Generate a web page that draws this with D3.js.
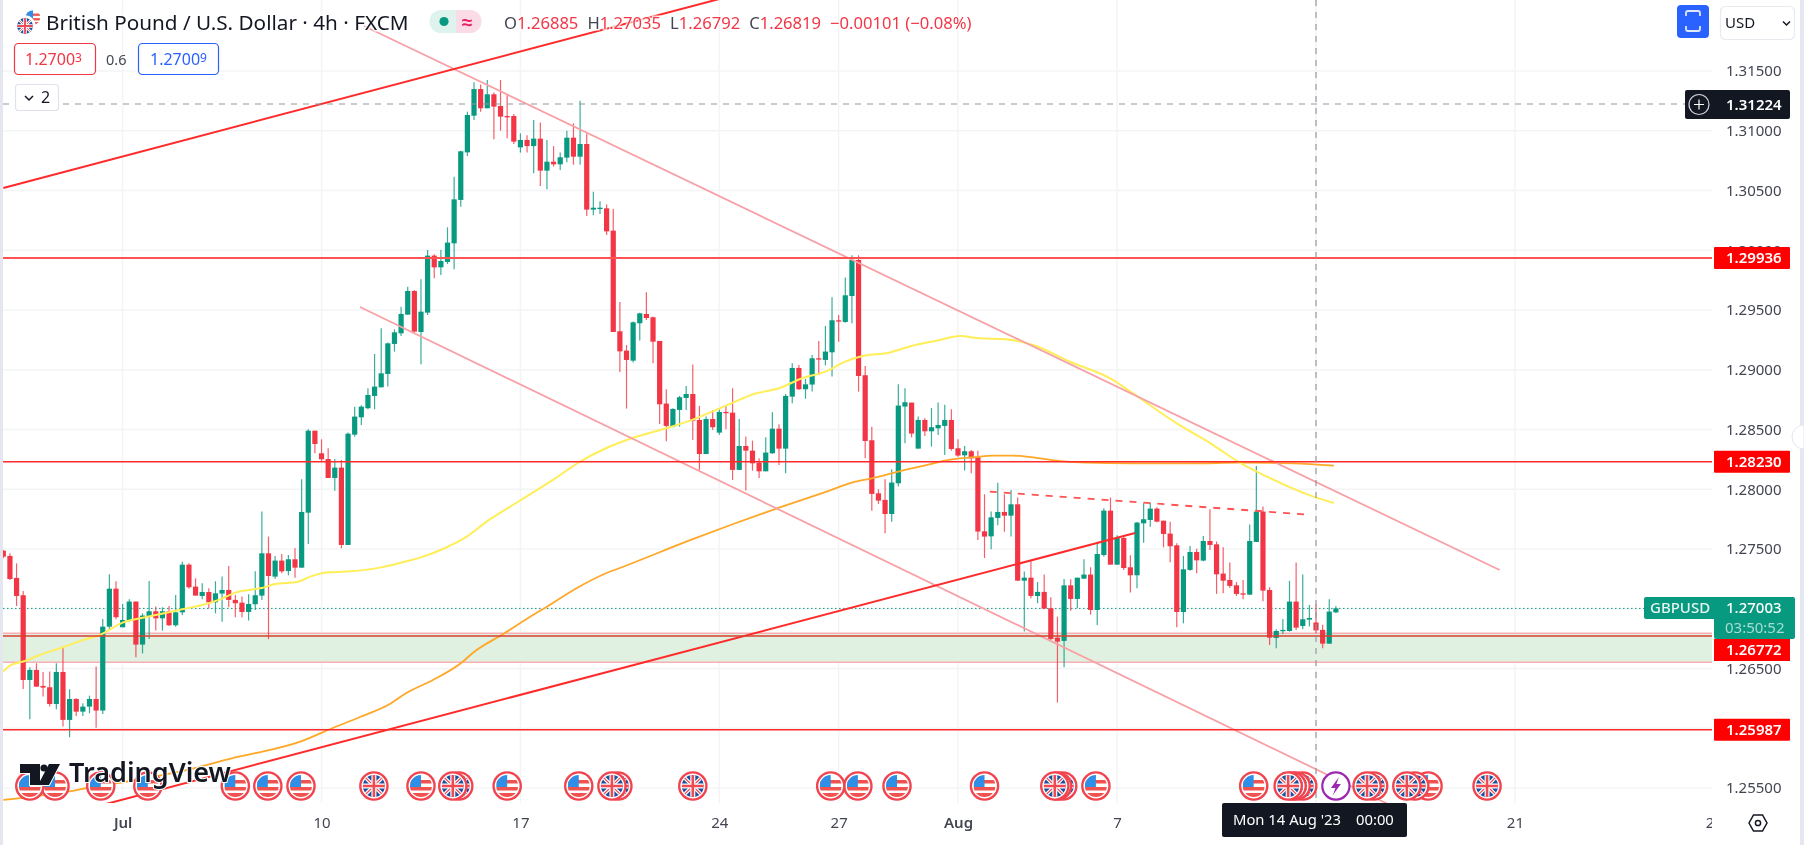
<!DOCTYPE html>
<html>
<head>
<meta charset="utf-8">
<title>GBPUSD 4h</title>
<script src="https://cdnjs.cloudflare.com/ajax/libs/d3/7.8.5/d3.min.js"></script>
<style>
  html, body { margin: 0; padding: 0; background: #fff; overflow: hidden; }
  text { font-family: "Noto Sans", sans-serif; }
  svg { filter: blur(0.35px); }
</style>
</head>
<body>
<div id="chart"></div>
<script>
// 4h candles
var opens = [
1.27486,1.27442,1.27258,1.27113,1.26404,1.26488,1.26354,1.26343,1.26203,1.26471,
1.26070,1.26245,1.26139,1.26181,1.26245,1.26148,1.26850,1.27168,1.26845,1.26901,
1.27060,1.26700,1.26934,1.26979,1.26920,1.26979,1.26862,1.26970,1.27369,1.27185,
1.27107,1.27140,1.27054,1.27127,1.27157,1.27074,1.27051,1.26973,1.27038,1.27110,
1.27464,1.27269,1.27403,1.27316,1.27414,1.27344,1.27804,1.28490,1.28301,1.28253,
1.28094,1.28181,1.27534,1.28457,1.28602,1.28678,1.28781,1.28853,1.28965,1.29216,
1.29305,1.29461,1.29659,1.29316,1.29478,1.29955,1.29857,1.29902,1.30058,1.30421,
1.30819,1.31126,1.31349,1.31188,1.31305,1.31207,1.31123,1.31123,1.30861,1.30923,
1.30872,1.30934,1.30666,1.30741,1.30719,1.30775,1.30942,1.30783,1.30889,1.30340,
1.30351,1.30351,1.30164,1.29322,1.29160,1.29076,1.29389,1.29467,1.29439,1.29241,
1.28717,1.28524,1.28664,1.28764,1.28797,1.28580,1.28295,1.28588,1.28474,1.28647,
1.28641,1.28162,1.28362,1.28323,1.28223,1.28150,1.28301,1.28507,1.28340,1.28775,
1.29015,1.28837,1.28876,1.29096,1.29082,1.29146,1.29414,1.29400,1.29617,1.29919,
1.28954,1.28410,1.27966,1.27911,1.27793,1.28050,1.28692,1.28725,1.28340,1.28580,
1.28485,1.28510,1.28530,1.28580,1.28343,1.28284,1.28318,1.28268,1.27648,1.27606,
1.27760,1.27810,1.27779,1.27874,1.27235,1.27260,1.27107,1.27141,1.27004,1.26758,
1.26731,1.27196,1.27082,1.27252,1.27286,1.26990,1.27450,1.27821,1.27369,1.27592,
1.27347,1.27280,1.27715,1.27743,1.27838,1.27737,1.27629,1.27531,1.26973,1.27325,
1.27475,1.27403,1.27567,1.27539,1.27294,1.27241,1.27196,1.27129,1.27118,1.27559,
1.27813,1.27157,1.26756,1.26812,1.26814,1.27060,1.26856,1.26909,1.26885,1.26823,
1.26708,1.26970];
var closes = [
1.27436,1.27249,1.27107,1.26404,1.26488,1.26348,1.26340,1.26203,1.26471,1.26070,
1.26245,1.26139,1.26181,1.26245,1.26148,1.26850,1.27168,1.26929,1.26906,1.27060,
1.26700,1.26943,1.26979,1.26920,1.26979,1.26862,1.26970,1.27369,1.27180,1.27110,
1.27140,1.27054,1.27129,1.27157,1.27074,1.27046,1.26973,1.27040,1.27113,1.27464,
1.27274,1.27403,1.27313,1.27414,1.27344,1.27810,1.28490,1.28379,1.28251,1.28094,
1.28181,1.27534,1.28465,1.28608,1.28691,1.28789,1.28859,1.28970,1.29221,1.29313,
1.29467,1.29659,1.29319,1.29486,1.29955,1.29857,1.29910,1.30064,1.30426,1.30828,
1.31132,1.31349,1.31188,1.31305,1.31202,1.31118,1.31118,1.30909,1.30923,1.30872,
1.30934,1.30666,1.30741,1.30719,1.30778,1.30942,1.30783,1.30889,1.30340,1.30356,
1.30356,1.30158,1.29316,1.29154,1.29082,1.29397,1.29472,1.29433,1.29235,1.28711,
1.28530,1.28672,1.28770,1.28797,1.28574,1.28295,1.28588,1.28519,1.28647,1.28639,
1.28162,1.28362,1.28323,1.28217,1.28150,1.28307,1.28507,1.28340,1.28781,1.29015,
1.28837,1.28878,1.29096,1.29085,1.29152,1.29414,1.29403,1.29623,1.29919,1.28948,
1.28404,1.27961,1.27905,1.27793,1.28056,1.28700,1.28728,1.28466,1.28580,1.28485,
1.28519,1.28538,1.28580,1.28337,1.28282,1.28318,1.28259,1.27646,1.27604,1.27765,
1.27810,1.27779,1.27874,1.27235,1.27260,1.27107,1.27141,1.27001,1.26747,1.26725,
1.27196,1.27082,1.27260,1.27286,1.26990,1.27458,1.27821,1.27369,1.27592,1.27341,
1.27280,1.27721,1.27749,1.27838,1.27729,1.27626,1.27523,1.26973,1.27330,1.27475,
1.27405,1.27567,1.27534,1.27288,1.27235,1.27191,1.27124,1.27118,1.27567,1.27813,
1.27152,1.26758,1.26814,1.26823,1.27060,1.26842,1.26912,1.26923,1.26819,1.26708,
1.26976,1.27003];
var highs = [
1.27492,1.27464,1.27380,1.27149,1.26510,1.26544,1.26471,1.26474,1.26544,1.26678,
1.26326,1.26251,1.26209,1.26273,1.26516,1.26915,1.27288,1.27230,1.27040,1.27079,
1.27060,1.26962,1.27233,1.27018,1.27012,1.27023,1.27115,1.27394,1.27380,1.27255,
1.27213,1.27171,1.27230,1.27269,1.27358,1.27115,1.27102,1.27121,1.27313,1.27813,
1.27604,1.27442,1.27458,1.27450,1.27506,1.28083,1.28502,1.28490,1.28418,1.28343,
1.28253,1.28245,1.28474,1.28691,1.28702,1.28845,1.29132,1.29347,1.29227,1.29338,
1.29528,1.29695,1.29668,1.29757,1.30002,1.29966,1.30002,1.30192,1.30616,1.30833,
1.31160,1.31405,1.31388,1.31425,1.31321,1.31425,1.31299,1.31140,1.30978,1.30962,
1.31090,1.31068,1.30923,1.30872,1.30817,1.31001,1.31062,1.31252,1.30978,1.30490,
1.30409,1.30382,1.30345,1.29567,1.29207,1.29403,1.29478,1.29648,1.29445,1.29241,
1.28837,1.28678,1.28781,1.28864,1.29043,1.28697,1.28608,1.28664,1.28669,1.28697,
1.28845,1.28588,1.28441,1.28407,1.28259,1.28435,1.28644,1.28544,1.28797,1.29054,
1.29040,1.28923,1.29124,1.29241,1.29366,1.29606,1.29458,1.29771,1.29958,1.29958,
1.29032,1.28524,1.28000,1.28083,1.28167,1.28878,1.28845,1.28725,1.28608,1.28594,
1.28680,1.28725,1.28708,1.28669,1.28418,1.28362,1.28329,1.28323,1.27958,1.27813,
1.28055,1.27958,1.27994,1.27930,1.27311,1.27400,1.27224,1.27286,1.27096,1.26934,
1.27249,1.27246,1.27260,1.27414,1.27347,1.27548,1.27841,1.27930,1.27615,1.27609,
1.27447,1.27726,1.27882,1.27888,1.27849,1.27737,1.27729,1.27548,1.27442,1.27525,
1.27503,1.27609,1.27832,1.27562,1.27514,1.27386,1.27224,1.27241,1.27704,1.28195,
1.27855,1.27180,1.26828,1.26915,1.27233,1.27386,1.27286,1.27032,1.27035,1.26867,
1.27079,1.27023];
var lows = [
1.27422,1.27241,1.27023,1.26329,1.26075,1.26348,1.26265,1.26181,1.26159,1.26014,
1.25925,1.26103,1.26103,1.26125,1.26005,1.26120,1.26828,1.26912,1.26845,1.26892,
1.26594,1.26627,1.26747,1.26817,1.26817,1.26856,1.26850,1.26948,1.27168,1.27110,
1.27079,1.27004,1.26962,1.26892,1.27012,1.26929,1.26929,1.26901,1.26990,1.27074,
1.26745,1.27252,1.27297,1.27280,1.27260,1.27344,1.27542,1.28301,1.28228,1.28094,
1.27988,1.27506,1.27534,1.28440,1.28538,1.28669,1.28669,1.28853,1.28859,1.29152,
1.29283,1.29461,1.29311,1.29046,1.29458,1.29765,1.29793,1.29885,1.29841,1.30365,
1.30789,1.31090,1.31160,1.31188,1.30928,1.31001,1.30937,1.30889,1.30817,1.30817,
1.30644,1.30538,1.30510,1.30700,1.30672,1.30736,1.30716,1.30716,1.30287,1.30292,
1.30303,1.30128,1.29316,1.28982,1.28675,1.29060,1.29244,1.29417,1.29054,1.28546,
1.28401,1.28519,1.28524,1.28664,1.28413,1.28162,1.28295,1.28496,1.28457,1.28502,
1.28078,1.28162,1.27989,1.28156,1.28095,1.28150,1.28295,1.28203,1.28134,1.28719,
1.28831,1.28758,1.28817,1.28956,1.29037,1.28943,1.29235,1.29394,1.29389,1.28817,
1.28259,1.27821,1.27877,1.27632,1.27729,1.28022,1.28385,1.28435,1.28340,1.28446,
1.28357,1.28454,1.28287,1.28323,1.28273,1.28156,1.28134,1.27576,1.27425,1.27498,
1.27698,1.27645,1.27604,1.27235,1.26809,1.27088,1.27046,1.27001,1.26739,1.26215,
1.26510,1.26984,1.27004,1.27252,1.26951,1.26864,1.27436,1.27369,1.27369,1.27325,
1.27135,1.27171,1.27553,1.27687,1.27723,1.27514,1.27389,1.26845,1.26878,1.27319,
1.27297,1.27397,1.27492,1.27124,1.27129,1.27174,1.27107,1.27079,1.27118,1.27559,
1.27062,1.26697,1.26669,1.26789,1.26809,1.26823,1.26828,1.26851,1.26792,1.26669,
1.26708,1.26962];

// moving averages as [bar index, price]
var yellowMA = [[0,1.26474],[1,1.26524],[3,1.26558],[5.5,1.26613],[9,1.26678],[11.6,1.26731],[14.6,1.26781],[18,1.26884],
  [20.6,1.26920],[23,1.26948],[27,1.26996],[30,1.27032],[33,1.27085],[35,1.27135],[37,1.27157],[39,1.27174],[41,1.27207],
  [44.3,1.27224],[46.3,1.27269],[49,1.27305],[51.8,1.27311],[56.8,1.27344],[59.8,1.27383],[63.3,1.27436],[66.3,1.27500],
  [69.9,1.27603],[72.9,1.27729],[77.9,1.27904],[82.9,1.28078],[87,1.28231],[90.9,1.28343],[94.9,1.28429],[100,1.28510],
  [103.6,1.28574],[109,1.28700],[113.6,1.28803],[117,1.28845],[120.5,1.28929],[124,1.28984],[127,1.29068],[129.6,1.29115],
  [133.6,1.29143],[137,1.29199],[140.6,1.29241],[144.3,1.29282],[147.3,1.29263],[150.8,1.29257],[155.3,1.29207],[160.9,1.29067],
  [167.4,1.28914],[170.4,1.28802],[177,1.28551],[182.5,1.28370],[186.5,1.28222],[190.6,1.28105],[197.6,1.27938],[200.7,1.27885]];
var orangeMA = [[0,1.25400],[9.5,1.25467],[12.6,1.25500],[20,1.25567],[28.9,1.25667],[34.6,1.25751],[38.2,1.25793],[44.8,1.25888],
  [49.7,1.26002],[53.8,1.26094],[58.3,1.26203],[60.8,1.26295],[64.8,1.26404],[69.3,1.26557],[70.8,1.26630],[75.4,1.26789],
  [79.9,1.26948],[82,1.27017],[86,1.27157],[91,1.27299],[93,1.27341],[103.7,1.27576],[110,1.27707],[117,1.27846],[124.6,1.27989],
  [128,1.28056],[131,1.28092],[135,1.28148],[140,1.28212],[142,1.28240],[146.6,1.28268],[149.3,1.28281],[152.3,1.28281],
  [155.3,1.28267],[159.4,1.28236],[163.4,1.28222],[170.4,1.28217],[179.4,1.28217],[186.5,1.28222],[194.6,1.28217],[200.7,1.28197]];

// drawn trend lines
var upperChannel = [[54.4,1.31877],[225.7,1.27324]];
var lowerChannel = [[53.8,1.29525],[210.7,1.25316]];
var redTop = [[0,1.30521],[110,1.32132]];
var redBottom = [[10,1.25286],[170.7,1.27634]];
var redDashed = [[148.8,1.27980],[196.3,1.27790]];

var levels = [1.29936, 1.28230, 1.26772, 1.25987];
var zone = [1.26795, 1.26552];
var lastPrice = 1.27003;
var crossPrice = 1.31224;
var crossBar = 198;

var priceTicks = [1.315,1.31,1.305,1.30,1.295,1.29,1.285,1.28,1.275,1.27,1.265,1.26,1.255];
var timeTicks = [18,48,78,108,126,144,168,198,228,258];
// the 14 tick sits under the crosshair date box
var timeLabels = ["Jul","10","17","24","27","Aug","7","","21","28"];

// economic event bars
var usEvents = [214.9,188.6,164.8,148,134.8,128.9,124.8,86.8,76,63,44.9,39.9,35,21.8,14.7,7.8,4];
var ukEvents = [223.8,212.9,211.7,206.7,205.7,196,195,194.4,193.8,159.8,159,158.6,104,92.7,91.8,68.7,67.8,55.9];
var boltEvent = 201;

var W = 1804, H = 845, paneRight = 1712, paneBottom = 803;
var green = "#089981", red = "#f23645";

var x = d3.scaleLinear().domain([0, 258]).range([3.3, 1713.8]);
var y = d3.scaleLinear().domain([1.315, 1.255]).range([71, 788]);

var svg = d3.select("#chart").append("svg")
  .attr("width", W).attr("height", H)
  .style("display", "block");

var defs = svg.append("defs");
defs.append("clipPath").attr("id", "pane").append("rect")
  .attr("x", 3).attr("y", 0).attr("width", paneRight - 3).attr("height", paneBottom);
defs.append("clipPath").attr("id", "flagclip").append("circle").attr("r", 11);
defs.append("clipPath").attr("id", "timeclip").append("rect")
  .attr("x", 3).attr("y", 0).attr("width", paneRight - 3).attr("height", 42);

svg.append("rect").attr("width", W).attr("height", H).attr("fill", "#fff");

var pane = svg.append("g").attr("clip-path", "url(#pane)");

// grid
pane.selectAll(".hgrid").data(priceTicks).enter().append("line")
  .attr("x1", 3).attr("x2", paneRight)
  .attr("y1", function(d) { return y(d); }).attr("y2", function(d) { return y(d); })
  .attr("stroke", "#f3f4f6").attr("stroke-width", 1.5);
pane.selectAll(".vgrid").data(timeTicks).enter().append("line")
  .attr("x1", function(d) { return x(d); }).attr("x2", function(d) { return x(d); })
  .attr("y1", 0).attr("y2", paneBottom)
  .attr("stroke", "#f3f4f6").attr("stroke-width", 1.5);

// green zone
pane.append("rect")
  .attr("x", 3).attr("width", paneRight - 3)
  .attr("y", y(zone[0])).attr("height", y(zone[1]) - y(zone[0]))
  .attr("fill", "#e0f0e1");
zone.forEach(function(p) {
  pane.append("line").attr("x1", 3).attr("x2", paneRight)
    .attr("y1", y(p)).attr("y2", y(p))
    .attr("stroke", "#f9b0b4").attr("stroke-width", 1.5);
});

// last price dots
pane.append("line").attr("x1", 3).attr("x2", 1645)
  .attr("y1", y(lastPrice)).attr("y2", y(lastPrice))
  .attr("stroke", green).attr("stroke-width", 1).attr("stroke-dasharray", "1.5,2.5");

// candles
var bars = d3.range(opens.length);
pane.selectAll(".wick").data(bars).enter().append("line")
  .attr("x1", function(i) { return x(i); }).attr("x2", function(i) { return x(i); })
  .attr("y1", function(i) { return y(highs[i]); }).attr("y2", function(i) { return y(lows[i]); })
  .attr("stroke", function(i) { return closes[i] >= opens[i] ? green : red; })
  .attr("stroke-width", 1.2).attr("stroke-opacity", 0.8);
pane.selectAll(".body").data(bars).enter().append("rect")
  .attr("x", function(i) { return x(i) - 2.6; })
  .attr("width", 5.2)
  .attr("y", function(i) { return y(Math.max(opens[i], closes[i])); })
  .attr("height", function(i) { return Math.max(1.3, Math.abs(y(opens[i]) - y(closes[i]))); })
  .attr("fill", function(i) { return closes[i] >= opens[i] ? green : red; });

// moving averages
var maLine = d3.line().x(function(d) { return x(d[0]); }).y(function(d) { return y(d[1]); }).curve(d3.curveMonotoneX);
pane.append("path").attr("d", maLine(orangeMA)).attr("fill", "none")
  .attr("stroke", "#ffa726").attr("stroke-width", 1.8);
pane.append("path").attr("d", maLine(yellowMA)).attr("fill", "none")
  .attr("stroke", "#ffee58").attr("stroke-width", 2);

// trend lines
var straight = d3.line().x(function(d) { return x(d[0]); }).y(function(d) { return y(d[1]); });
[upperChannel, lowerChannel].forEach(function(l) {
  pane.append("path").attr("d", straight(l)).attr("fill", "none")
    .attr("stroke", "#f7a1a6").attr("stroke-width", 1.8);
});
[redTop, redBottom].forEach(function(l) {
  pane.append("path").attr("d", straight(l)).attr("fill", "none")
    .attr("stroke", "#ff2b2b").attr("stroke-width", 2);
});
pane.append("path").attr("d", straight(redDashed)).attr("fill", "none")
  .attr("stroke", "#ff5252").attr("stroke-width", 1.8).attr("stroke-dasharray", "7,7");

// horizontal levels
pane.selectAll(".level").data(levels).enter().append("line")
  .attr("x1", 3).attr("x2", paneRight)
  .attr("y1", function(d) { return y(d); }).attr("y2", function(d) { return y(d); })
  .attr("stroke", function(d, i) { return i == 0 ? "#ff5252" : i == 2 ? "#d9402f" : "#ff2b2b"; })
  .attr("stroke-width", function(d, i) { return i == 0 ? 2 : 1.6; });

// crosshair
pane.append("line").attr("x1", 3).attr("x2", 1690)
  .attr("y1", y(crossPrice)).attr("y2", y(crossPrice))
  .attr("stroke", "#9598a1").attr("stroke-width", 1.2).attr("stroke-dasharray", "6,6");
pane.append("line").attr("x1", x(crossBar)).attr("x2", x(crossBar))
  .attr("y1", 0).attr("y2", paneBottom)
  .attr("stroke", "#9598a1").attr("stroke-width", 1.2).attr("stroke-dasharray", "6,6");

// event flags
var flagY = 786;
function flagBase(g) {
  g.append("circle").attr("r", 13.6).attr("fill", "#fff").attr("stroke", "#f2444f").attr("stroke-width", 2.4);
}
function drawUS(g) {
  flagBase(g);
  var f = g.append("g").attr("clip-path", "url(#flagclip)");
  f.append("rect").attr("x", -11).attr("y", -11).attr("width", 22).attr("height", 22).attr("fill", "#fff");
  f.append("rect").attr("x", -11).attr("y", -6).attr("width", 22).attr("height", 3.5).attr("fill", "#f0534f");
  f.append("rect").attr("x", -11).attr("y", 1).attr("width", 22).attr("height", 3.5).attr("fill", "#f0534f");
  f.append("rect").attr("x", -11).attr("y", 7).attr("width", 22).attr("height", 4).attr("fill", "#f0534f");
  f.append("rect").attr("x", -11).attr("y", -11).attr("width", 11).attr("height", 12).attr("fill", "#2f8ee6");
}
function drawUK(g) {
  flagBase(g);
  var f = g.append("g").attr("clip-path", "url(#flagclip)");
  f.append("rect").attr("x", -11).attr("y", -11).attr("width", 22).attr("height", 22).attr("fill", "#1c4f9c");
  f.append("path").attr("d", "M-11,-11L11,11M11,-11L-11,11").attr("stroke", "#fff").attr("stroke-width", 3.6);
  f.append("path").attr("d", "M-11,-11L11,11M11,-11L-11,11").attr("stroke", "#ee4a52").attr("stroke-width", 1.2);
  f.append("path").attr("d", "M0,-11V11M-11,0H11").attr("stroke", "#fff").attr("stroke-width", 5);
  f.append("path").attr("d", "M0,-11V11M-11,0H11").attr("stroke", "#ee4a52").attr("stroke-width", 2.6);
}
// right ones go first so the left flag of a pile sits on top
var events = usEvents.map(function(d) { return {bar: d, kind: "us"}; })
  .concat(ukEvents.map(function(d) { return {bar: d, kind: "uk"}; }))
  .sort(function(a, b) { return b.bar - a.bar; });
var flags = svg.append("g").attr("clip-path", "url(#pane)");
events.forEach(function(e) {
  var g = flags.append("g").attr("transform", "translate(" + x(e.bar) + "," + flagY + ")");
  if (e.kind == "us") drawUS(g); else drawUK(g);
});
var bolt = flags.append("g").attr("transform", "translate(" + x(boltEvent) + "," + flagY + ")");
bolt.append("circle").attr("r", 13.6).attr("fill", "#fff").attr("stroke", "#9c27b0").attr("stroke-width", 2.2);
bolt.append("path").attr("d", "M3,-9L-5,2H-0.5L-3,9L5,-2H0.5Z").attr("fill", "#9c27b0");

// TradingView logo
var logo = svg.append("g");
logo.append("path").attr("d", "M20,764H40V785H30V773H20Z M49,764H60L49,785H38Z").attr("fill", "#131722")
  .attr("stroke", "#fff").attr("stroke-width", 2).attr("paint-order", "stroke");
logo.append("circle").attr("cx", 44).attr("cy", 768).attr("r", 3.6).attr("fill", "#131722");
logo.append("text").attr("x", 69).attr("y", 782).text("TradingView")
  .attr("font-size", 27).attr("font-weight", 600).attr("fill", "#131722")
  .attr("stroke", "#fff").attr("stroke-width", 2).attr("paint-order", "stroke");

// price axis
var priceAxis = svg.append("g").attr("transform", "translate(1726,0)")
  .call(d3.axisRight(y).tickValues(priceTicks).tickFormat(d3.format(".5f")).tickSize(0).tickPadding(0));
priceAxis.select(".domain").remove();
priceAxis.selectAll("text").attr("font-size", 15).attr("fill", "#434651")
  .attr("font-family", "'Noto Sans', sans-serif");

// time axis
var timeAxis = svg.append("g").attr("transform", "translate(0," + paneBottom + ")")
  .attr("clip-path", "url(#timeclip)")
  .call(d3.axisBottom(x).tickValues(timeTicks).tickFormat(function(d, i) { return timeLabels[i]; }).tickSize(0).tickPadding(14));
timeAxis.select(".domain").remove();
timeAxis.selectAll("text").attr("font-size", 15).attr("fill", "#434651")
  .attr("font-family", "'Noto Sans', sans-serif")
  .attr("font-weight", function(d, i) { return isNaN(+timeLabels[i]) ? 600 : 400; });

// labels on the price scale
function priceTag(p, color) {
  svg.append("rect").attr("x", 1714).attr("y", y(p) - 11).attr("width", 76).attr("height", 22)
    .attr("rx", 1).attr("fill", color);
  svg.append("text").attr("x", 1726).attr("y", y(p)).attr("dy", "0.36em").text(d3.format(".5f")(p))
    .attr("font-size", 15).attr("font-weight", 600).attr("fill", "#fff");
}
priceTag(levels[0], "#ff0000");
priceTag(levels[1], "#ff0000");
priceTag(levels[3], "#ff0000");

// 1.26772 tag sits a bit lower than its level to clear the countdown box
svg.append("rect").attr("x", 1714).attr("y", 639).attr("width", 76).attr("height", 22).attr("fill", "#ff0000");
svg.append("text").attr("x", 1726).attr("y", 650).attr("dy", "0.36em").text(d3.format(".5f")(levels[2]))
  .attr("font-size", 15).attr("font-weight", 600).attr("fill", "#fff");

// last price box
svg.append("path").attr("d", "M1646,597H1793a2,2 0 0 1 2,2V637a2,2 0 0 1 -2,2H1716a2,2 0 0 1 -2,-2V619H1646a2,2 0 0 1 -2,-2V599a2,2 0 0 1 2,-2Z")
  .attr("fill", green);
svg.append("text").attr("x", 1650).attr("y", 608).attr("dy", "0.36em").text("GBPUSD")
  .attr("font-size", 15).attr("font-weight", 500).attr("fill", "#e6f5f1");
svg.append("text").attr("x", 1726).attr("y", 608).attr("dy", "0.36em").text(d3.format(".5f")(lastPrice))
  .attr("font-size", 15).attr("font-weight", 500).attr("fill", "#fff");
svg.append("text").attr("x", 1725).attr("y", 628).attr("dy", "0.36em").text("03:50:52")
  .attr("font-size", 15).attr("fill", "#a8dcd0");

// crosshair price box
svg.append("rect").attr("x", 1685).attr("y", 90).attr("width", 105).attr("height", 29).attr("rx", 2).attr("fill", "#131722");
svg.append("circle").attr("cx", 1699).attr("cy", 104.5).attr("r", 10).attr("fill", "none").attr("stroke", "#d1d4dc").attr("stroke-width", 1.2);
svg.append("path").attr("d", "M1694,104.5H1704M1699,99.5V109.5").attr("stroke", "#fff").attr("stroke-width", 1.2);
svg.append("text").attr("x", 1726).attr("y", 104.5).attr("dy", "0.36em").text(d3.format(".5f")(crossPrice))
  .attr("font-size", 15).attr("font-weight", 600).attr("fill", "#fff");

// crosshair date box
svg.append("rect").attr("x", 1222).attr("y", paneBottom).attr("width", 185).attr("height", 34).attr("rx", 2).attr("fill", "#131722");
svg.append("text").attr("x", 1233).attr("y", 825).text("Mon 14 Aug '23")
  .attr("font-size", 14.8).attr("fill", "#fff");
svg.append("text").attr("x", 1356).attr("y", 825).text("00:00")
  .attr("font-size", 14.8).attr("fill", "#fff");

// settings hexagon
svg.append("path").attr("d", "M1749,823L1753.5,815H1762.5L1767,823L1762.5,831H1753.5Z")
  .attr("fill", "none").attr("stroke", "#131722").attr("stroke-width", 1.5);
svg.append("circle").attr("cx", 1758).attr("cy", 823).attr("r", 2.6).attr("fill", "none").attr("stroke", "#131722").attr("stroke-width", 1.5);

// top right buttons
svg.append("rect").attr("x", 1677).attr("y", 5).attr("width", 32).attr("height", 33).attr("rx", 4).attr("fill", "#2962ff");
svg.append("path").attr("d", "M1686,16V13a2,2 0 0 1 2,-2H1698a2,2 0 0 1 2,2V16M1686,26V29a2,2 0 0 0 2,2H1698a2,2 0 0 0 2,-2V26")
  .attr("fill", "none").attr("stroke", "#dfe7ff").attr("stroke-width", 1.8);
svg.append("rect").attr("x", 1720.5).attr("y", 6.5).attr("width", 74).attr("height", 33).attr("rx", 5)
  .attr("fill", "#fff").attr("stroke", "#e8eaf0").attr("stroke-width", 1.2);
svg.append("text").attr("x", 1725).attr("y", 23).attr("dy", "0.36em").text("USD").attr("font-size", 15).attr("fill", "#131722");
svg.append("path").attr("d", "M1783,21.5L1786.5,25L1790,21.5").attr("fill", "none").attr("stroke", "#131722").attr("stroke-width", 1.5);

// legend
var legendHalo = function(t) {
  t.attr("stroke", "#fff").attr("stroke-width", 3).attr("stroke-opacity", 0.75).attr("paint-order", "stroke");
};
svg.append("text").attr("x", 46).attr("y", 30).text("British Pound / U.S. Dollar · 4h · FXCM")
  .attr("font-size", 20.7).attr("fill", "#131722").call(legendHalo);

// currency icons
var icon1 = svg.append("g").attr("transform", "translate(33,17.5) scale(0.66)");
drawUS(icon1);
icon1.select("circle").attr("stroke", "none");
var icon2 = svg.append("g").attr("transform", "translate(25,26) scale(0.72)");
drawUK(icon2);
icon2.select("circle").attr("stroke", "#fff");

// market status pill
svg.append("path").attr("d", "M456,10H441a11.5,11.5 0 0 0 0,23H456Z").attr("fill", "#dff3ee");
svg.append("path").attr("d", "M456,10H470a11.5,11.5 0 0 1 0,23H456Z").attr("fill", "#fbdce6");
svg.append("circle").attr("cx", 444).attr("cy", 21.5).attr("r", 4.6).attr("fill", green);
svg.append("text").attr("x", 467).attr("y", 22).attr("text-anchor", "middle").attr("dy", "0.36em").text("≈")
  .attr("font-size", 19).attr("font-weight", 700).attr("fill", "#e91e63");

// OHLC
var ohlc = svg.append("text").attr("x", 504).attr("y", 29).attr("font-size", 16.6).attr("fill", red).call(legendHalo);
[["O", opens[crossBar]], ["H", highs[crossBar]], ["L", lows[crossBar]], ["C", closes[crossBar]]].forEach(function(d, i) {
  ohlc.append("tspan").attr("dx", i ? 9 : 0).attr("fill", "#434651").text(d[0]);
  ohlc.append("tspan").text(d3.format(".5f")(d[1]));
});
ohlc.append("tspan").attr("dx", 9).text("−0.00101 (−0.08%)");

// sell and buy boxes
svg.append("rect").attr("x", 14.5).attr("y", 43.5).attr("width", 81).attr("height", 31).attr("rx", 4)
  .attr("fill", "#fff").attr("stroke", red).attr("stroke-width", 1.2);
var sell = svg.append("text").attr("x", 25).attr("y", 65).attr("font-size", 16).attr("fill", red);
sell.append("tspan").text("1.2700");
sell.append("tspan").attr("font-size", 12).attr("dy", -3).text("3");
svg.append("text").attr("x", 106).attr("y", 65).text("0.6").attr("font-size", 14.5).attr("fill", "#434651");
svg.append("rect").attr("x", 138.5).attr("y", 43.5).attr("width", 80).attr("height", 31).attr("rx", 4)
  .attr("fill", "#fff").attr("stroke", "#2962ff").attr("stroke-width", 1.2);
var buy = svg.append("text").attr("x", 150).attr("y", 65).attr("font-size", 16).attr("fill", "#2962ff");
buy.append("tspan").text("1.2700");
buy.append("tspan").attr("font-size", 12).attr("dy", -3).text("9");

// collapse button
svg.append("rect").attr("x", 15.5).attr("y", 84.5).attr("width", 43).attr("height", 26).attr("rx", 3)
  .attr("fill", "#fff").attr("stroke", "#e0e3eb").attr("stroke-width", 1.2);
svg.append("path").attr("d", "M25,96L29,100L33,96").attr("fill", "none").attr("stroke", "#131722").attr("stroke-width", 1.5);
svg.append("text").attr("x", 41).attr("y", 103).text("2").attr("font-size", 16).attr("fill", "#131722");

// window edges
svg.append("rect").attr("x", 0).attr("y", 0).attr("width", 3).attr("height", H).attr("fill", "#e4e6f0");
svg.append("rect").attr("x", 1800).attr("y", 0).attr("width", 4).attr("height", H).attr("fill", "#e4e6f0");
svg.append("path").attr("d", "M1804,425a12,12 0 0 0 0,24Z").attr("fill", "#fff").attr("stroke", "#e4e6f0");
</script>
</body>
</html>
